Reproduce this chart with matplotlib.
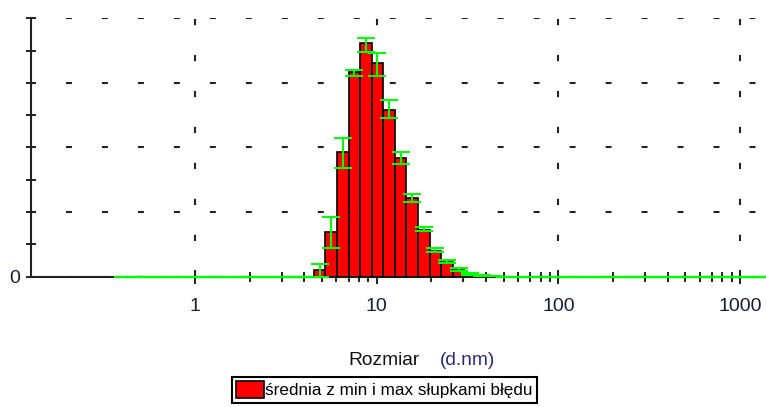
import numpy as np
import matplotlib
matplotlib.use("Agg")
import matplotlib.pyplot as plt
from matplotlib.ticker import FixedLocator, FixedFormatter, NullFormatter

plt.rcParams['font.family'] = ['Liberation Sans', 'DejaVu Sans']
plt.rcParams['lines.scale_dashes'] = False

# size classes (d.nm)
sizes = [0.4, 0.4632, 0.5365, 0.6213, 0.7195, 0.8332, 0.9649, 1.117, 1.294, 1.499,
         1.736, 2.010, 2.328, 2.696, 3.122, 3.615, 4.187, 4.849, 5.615, 6.503,
         7.531, 8.721, 10.10, 11.70, 13.54, 15.69, 18.17, 21.04, 24.36, 28.21,
         32.67, 37.84, 43.82, 50.75, 58.77, 68.06, 78.82, 91.28, 105.7, 122.4,
         141.8, 164.2, 190.1, 220.2, 255.0, 295.3, 342.0, 396.1, 458.7, 531.2,
         615.1, 712.4, 825.0, 955.4, 1106, 1281, 1484]

# non-zero part starts at 4.849 nm
first_bin = 17
mean_vals = [0.40, 2.77, 7.69, 12.68, 14.44, 13.20, 10.33, 7.36, 4.84, 2.88,
             1.60, 0.92, 0.42, 0.20, 0.07, 0.03]
min_vals = [0.00, 1.75, 6.74, 12.41, 13.92, 12.41, 9.80, 6.95, 4.59, 2.84,
            1.50, 0.82, 0.36, 0.09, 0.03, 0.01]
max_vals = [0.76, 3.70, 8.56, 12.79, 14.79, 13.82, 10.93, 7.69, 5.11, 3.08,
            1.75, 1.02, 0.51, 0.24, 0.10, 0.05]

x_ticks = [1, 10, 100, 1000]
x_tick_labels = ['1', '10', '100', '1000']
legend_label = 'średnia z min i max słupkami błędu'

sizes = np.array(sizes)
mean = np.zeros(len(sizes))
lo = np.zeros(len(sizes))
hi = np.zeros(len(sizes))
n = len(mean_vals)
mean[first_bin:first_bin + n] = mean_vals
lo[first_bin:first_bin + n] = min_vals
hi[first_bin:first_bin + n] = max_vals

# log-spaced bin edges
ratio = sizes[1] / sizes[0]
mids = np.sqrt(sizes[:-1] * sizes[1:])
edges = np.concatenate([[sizes[0] / np.sqrt(ratio)], mids, [sizes[-1] * np.sqrt(ratio)]])

fig = plt.figure(figsize=(7.66, 4.07), dpi=100)
ax = fig.add_axes([31 / 766, 1 - 276.5 / 407, 735 / 766, (276.5 - 18.3) / 407])

green = '#00ff00'

ax.plot(edges, np.zeros(len(edges)), color=green, lw=1.5, zorder=3, clip_on=False)

bars = ax.bar(edges[:-1], mean, width=np.diff(edges), align='edge', color='#ff0000',
              edgecolor='black', linewidth=1.2, zorder=4, clip_on=False, label=legend_label)

ax.errorbar(sizes, mean, yerr=[mean - lo, hi - mean], fmt='none', ecolor=green,
            elinewidth=1.5, capsize=6.2, capthick=1.5, zorder=5, clip_on=False)

ax.set_xscale('log')
ax.set_xlim(0.1251, 1390)
ax.set_ylim(0, 16)

ax.xaxis.set_major_locator(FixedLocator(x_ticks))
ax.xaxis.set_major_formatter(FixedFormatter(x_tick_labels))
minor = [m * d for d in [1, 10, 100] for m in range(2, 10)]
ax.xaxis.set_minor_locator(FixedLocator(minor))
ax.xaxis.set_minor_formatter(NullFormatter())

ax.yaxis.set_major_locator(FixedLocator([0, 4, 8, 12, 16]))
ax.yaxis.set_major_formatter(FixedFormatter(['0', '', '', '', '']))
ax.yaxis.set_minor_locator(FixedLocator([2, 6, 10, 14]))

ax.tick_params(axis='x', which='major', direction='inout', length=9.4, width=1.4,
               labelsize=14, pad=10.5, color='#222222', labelcolor='#1a1a3a')
ax.tick_params(axis='x', which='minor', direction='inout', length=6.5, width=1.4,
               color='#222222')
ax.tick_params(axis='y', which='both', direction='inout', length=7.2, width=1.4,
               labelsize=14, pad=4.3, color='#222222', labelcolor='#1a1a3a')

for s in ['top', 'right']:
    ax.spines[s].set_visible(False)
for s in ['left', 'bottom']:
    ax.spines[s].set_linewidth(1.5)
    ax.spines[s].set_color('#222222')

ax.grid(axis='x', which='major', color='#222222', linewidth=1.5, linestyle=(0, (4.5, 21.4)))
ax.grid(axis='y', which='major', color='#222222', linewidth=1.5, linestyle=(0.7, (4.3, 21.6)))
ax.set_axisbelow(True)

fig.text(348 / 766, 1 - 365 / 407, 'Rozmiar', fontsize=13.8, color='#111111',
         ha='left', va='baseline')
fig.text(440 / 766, 1 - 365 / 407, '(d.nm)', fontsize=13.8, color='#2a2a70',
         ha='left', va='baseline')

leg = fig.legend(handles=[bars], labels=[legend_label], loc='upper left',
                 bbox_to_anchor=(231.7 / 766, 1 - 376.7 / 407), fontsize=12.3,
                 borderpad=0.25, handlelength=1.65, handleheight=1.15, handletextpad=0.05,
                 borderaxespad=0, fancybox=False, edgecolor='black', framealpha=1)
leg.get_frame().set_linewidth(1.5)

plt.savefig('out.png', dpi=100)
